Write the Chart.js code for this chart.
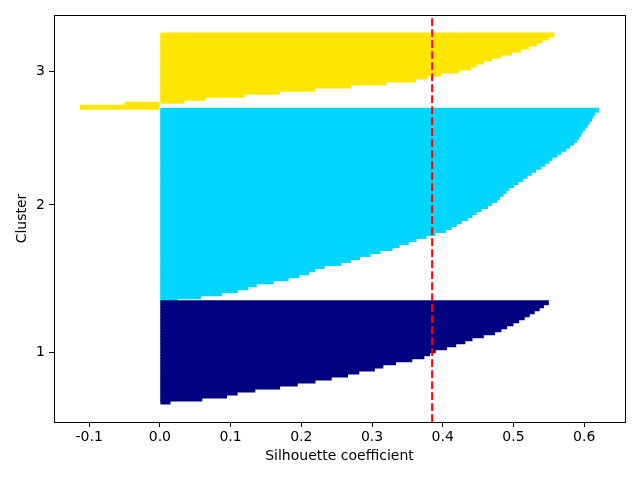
<!DOCTYPE html>
<html>
<head>
<meta charset="utf-8">
<script src="https://cdn.jsdelivr.net/npm/chart.js@4"></script>
<style>
  html, body { margin: 0; padding: 0; background: #fff; }
  #wrap { width: 640px; height: 480px; }
</style>
</head>
<body>
<div id="wrap"><canvas id="silhouette"></canvas></div>
<script>
// silhouette values per cluster, sorted, bottom to top
var cluster1Values = [0.015, 0.06, 0.095, 0.11, 0.135, 0.17, 0.195, 0.22, 0.243, 0.266,
  0.282, 0.304, 0.316, 0.334, 0.357, 0.374, 0.382, 0.39, 0.406, 0.419,
  0.432, 0.442, 0.458, 0.474, 0.483, 0.491, 0.5, 0.508, 0.516, 0.523,
  0.53, 0.537, 0.543, 0.55];
var cluster2Values = [0.025, 0.058, 0.088, 0.11, 0.125, 0.137, 0.161, 0.182, 0.197, 0.211,
  0.22, 0.233, 0.256, 0.27, 0.283, 0.298, 0.312, 0.329, 0.339, 0.352,
  0.363, 0.377, 0.389, 0.405, 0.413, 0.42, 0.427, 0.436, 0.442, 0.448,
  0.455, 0.464, 0.47, 0.477, 0.481, 0.486, 0.49, 0.494, 0.501, 0.507,
  0.514, 0.52, 0.526, 0.532, 0.539, 0.545, 0.551, 0.555, 0.562, 0.568,
  0.575, 0.58, 0.586, 0.59, 0.593, 0.596, 0.598, 0.602, 0.605, 0.608,
  0.611, 0.613, 0.616, 0.621];
var cluster3Values = [-0.113, -0.05, 0.035, 0.065, 0.12, 0.17, 0.22, 0.27, 0.32, 0.362,
  0.378, 0.398, 0.423, 0.44, 0.448, 0.458, 0.47, 0.483, 0.498, 0.511,
  0.522, 0.533, 0.541, 0.55, 0.558];
var clusterLabels = ['1', '2', '3'];
var clusterColors = ['#000080', '#00d5ff', '#ffe600'];
var avgScore = 0.385;
var xTicks = [-0.1, 0, 0.1, 0.2, 0.3, 0.4, 0.5, 0.6];

(function () {
  var clusters = [cluster1Values, cluster2Values, cluster3Values];
  var datasets = [];
  var mids = [];
  var offset = 0;
  var all = [];
  clusters.forEach(function (vals, k) {
    datasets.push({
      label: clusterLabels[k],
      data: vals.map(function (v, i) { return { x: v, y: offset + i + 0.5 }; }),
      backgroundColor: clusterColors[k],
      borderWidth: 0,
      grouped: false,
      // bars overlap their neighbours by ~1px so antialiasing leaves no seams
      barPercentage: 1.65,
      categoryPercentage: 1,
      inflateAmount: 0
    });
    mids.push(offset + vals.length / 2);
    offset += vals.length;
    all = all.concat(vals);
  });
  var total = offset;
  var xmin = Math.min.apply(null, all), xmax = Math.max.apply(null, all);
  var xr = xmax - xmin;

  var font = { family: 'DejaVu Sans', size: 14 };

  var extras = {
    id: 'extras',
    afterDatasetsDraw: function (chart) {
      var c = chart.ctx, a = chart.chartArea;
      var px = chart.scales.x.getPixelForValue(avgScore);
      c.save();
      c.strokeStyle = '#ff0000';
      c.lineWidth = 2;
      c.setLineDash([7.7, 3.3]);
      c.beginPath();
      c.moveTo(px, a.bottom);
      c.lineTo(px, a.top);
      c.stroke();
      c.restore();
    },
    afterDraw: function (chart) {
      var c = chart.ctx, a = chart.chartArea;
      c.save();
      c.strokeStyle = '#000';
      c.lineWidth = 1;
      c.strokeRect(Math.round(a.left) + 0.5, Math.round(a.top) + 0.5,
        Math.round(a.right - a.left), Math.round(a.bottom - a.top));
      c.restore();
    }
  };

  new Chart(document.getElementById('silhouette').getContext('2d'), {
    type: 'bar',
    data: { datasets: datasets },
    plugins: [extras],
    options: {
      indexAxis: 'y',
      responsive: true,
      maintainAspectRatio: false,
      animation: false,
      layout: { padding: { top: 15, right: 15, left: 14, bottom: 15 } },
      plugins: { legend: { display: false }, tooltip: { enabled: false } },
      scales: {
        x: {
          type: 'linear',
          min: xmin - 0.05 * xr,
          max: xmax + 0.05 * xr,
          offset: false,
          afterBuildTicks: function (s) { s.ticks = xTicks.map(function (v) { return { value: v }; }); },
          afterFit: function (s) { s.height = 43; },
          grid: { display: true, offset: false, drawOnChartArea: false, drawTicks: true, tickLength: 5, color: '#000' },
          border: { display: false },
          ticks: {
            color: '#000', font: font, padding: 2, maxRotation: 0,
            callback: function (v) { return (Math.round(v * 10) / 10).toFixed(1); }
          },
          title: { display: true, text: 'Silhouette coefficient', color: '#000', font: font, padding: { top: 2, bottom: 0 } }
        },
        y: {
          type: 'linear',
          min: -0.05 * total,
          max: total * 1.05,
          offset: false,
          afterBuildTicks: function (s) { s.ticks = mids.map(function (v) { return { value: v }; }); },
          afterFit: function (s) { s.width = 40; },
          grid: { display: true, offset: false, drawOnChartArea: false, drawTicks: true, tickLength: 5, color: '#000' },
          border: { display: false },
          ticks: {
            color: '#000', font: font, padding: 4,
            callback: function (v, i) { return clusterLabels[i]; }
          },
          title: { display: true, text: 'Cluster', color: '#000', font: font, padding: { top: 0, bottom: 4 } }
        }
      }
    }
  });
})();
</script>
</body>
</html>
